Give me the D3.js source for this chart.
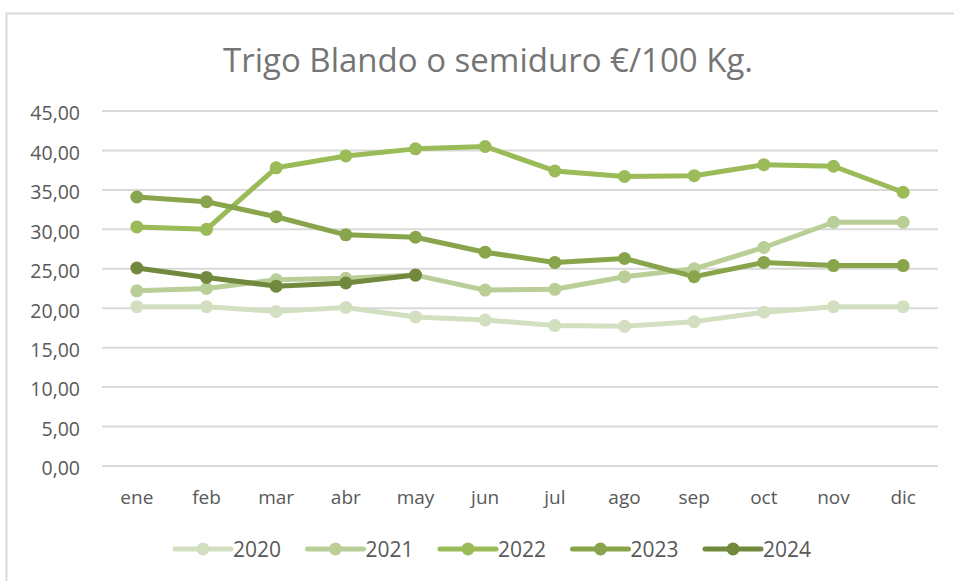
<!DOCTYPE html>
<html>
<head>
<meta charset="utf-8">
<script src="https://cdn.jsdelivr.net/npm/d3@7"></script>
<style>
  body { margin: 0; background: #fff; }
  svg { display: block; font-family: "Open Sans", "Noto Sans", sans-serif; }
</style>
</head>
<body>
<svg id="vis" width="954" height="581"></svg>
<script>
var months = ["ene", "feb", "mar", "abr", "may", "jun", "jul", "ago", "sep", "oct", "nov", "dic"];
var years = ["2020", "2021", "2022", "2023", "2024"];
var yTicks = [0, 5, 10, 15, 20, 25, 30, 35, 40, 45];

var v2020 = [20.2, 20.2, 19.6, 20.1, 18.9, 18.5, 17.8, 17.7, 18.3, 19.5, 20.2, 20.2];
var v2021 = [22.2, 22.5, 23.6, 23.8, 24.2, 22.3, 22.4, 24.0, 25.0, 27.7, 30.9, 30.9];
var v2022 = [30.3, 30.0, 37.8, 39.3, 40.2, 40.5, 37.4, 36.7, 36.8, 38.2, 38.0, 34.7];
var v2023 = [34.1, 33.5, 31.6, 29.3, 29.0, 27.1, 25.8, 26.3, 24.0, 25.8, 25.4, 25.4];
var v2024 = [25.1, 23.9, 22.8, 23.2, 24.2];

var colors = ["#d3dfc1", "#b9cf97", "#9bbb59", "#88a54c", "#71893d"];

var series = [v2020, v2021, v2022, v2023, v2024];

var svg = d3.select("#vis");

// chart frame (only left and top edges show in the picture)
svg.append("rect")
   .attr("x", 6.5).attr("y", 13.5)
   .attr("width", 960).attr("height", 600)
   .attr("fill", "none")
   .attr("stroke", "#d9d9d9")
   .attr("stroke-width", 2);

var x = d3.scaleBand().domain(months).range([102, 938]);
var y = d3.scaleLinear().domain([0, 45]).range([466, 111]);

svg.append("text")
   .attr("x", 488).attr("y", 72)
   .attr("text-anchor", "middle")
   .attr("font-size", 33)
   .attr("fill", "#757575")
   .text("Trigo Blando o semiduro €/100 Kg.");

// gridlines
svg.append("g")
   .selectAll("line")
   .data(yTicks)
   .enter()
   .append("line")
   .attr("x1", 102).attr("x2", 938)
   .attr("y1", d => y(d)).attr("y2", d => y(d))
   .attr("stroke", "#d9d9d9")
   .attr("stroke-width", 2);

var fmt = d => d3.format(".2f")(d).replace(".", ",");

var yAxis = svg.append("g")
   .attr("transform", "translate(102,0)")
   .call(d3.axisLeft(y).tickValues(yTicks).tickFormat(fmt).tickSize(0).tickPadding(22));
yAxis.select(".domain").remove();
yAxis.selectAll("text")
     .attr("font-size", 19.5).attr("fill", "#595959")
     .attr("font-family", "Open Sans").attr("dy", "0.45em");

var xAxis = svg.append("g")
   .attr("transform", "translate(0,466)")
   .call(d3.axisBottom(x).tickSize(0).tickPadding(25));
xAxis.select(".domain").remove();
xAxis.selectAll("text").attr("font-size", 19).attr("fill", "#595959").attr("font-family", "Open Sans");

var line = d3.line()
   .x((d, i) => x(months[i]) + x.bandwidth() / 2)
   .y(d => y(d));

series.forEach((vals, k) => {
	var g = svg.append("g");
	g.append("path")
	 .attr("d", line(vals))
	 .attr("fill", "none")
	 .attr("stroke", colors[k])
	 .attr("stroke-width", 5)
	 .attr("stroke-linejoin", "round");
	g.selectAll("circle")
	 .data(vals)
	 .enter()
	 .append("circle")
	 .attr("cx", (d, i) => x(months[i]) + x.bandwidth() / 2)
	 .attr("cy", d => y(d))
	 .attr("r", 6.5)
	 .attr("fill", colors[k]);
});

// legend
var legStart = d3.scalePoint().domain(years).range([175, 705]);
years.forEach((yr, k) => {
	var lx = legStart(yr);
	var g = svg.append("g").attr("transform", "translate(" + lx + ",549)");
	g.append("line")
	 .attr("x1", 0).attr("x2", 56)
	 .attr("stroke", colors[k])
	 .attr("stroke-width", 5)
	 .attr("stroke-linecap", "round");
	g.append("circle").attr("cx", 28).attr("r", 6.5).attr("fill", colors[k]);
	g.append("text")
	 .attr("x", 58).attr("y", 8)
	 .attr("font-size", 21)
	 .attr("fill", "#595959")
	 .text(yr);
});
</script>
</body>
</html>
